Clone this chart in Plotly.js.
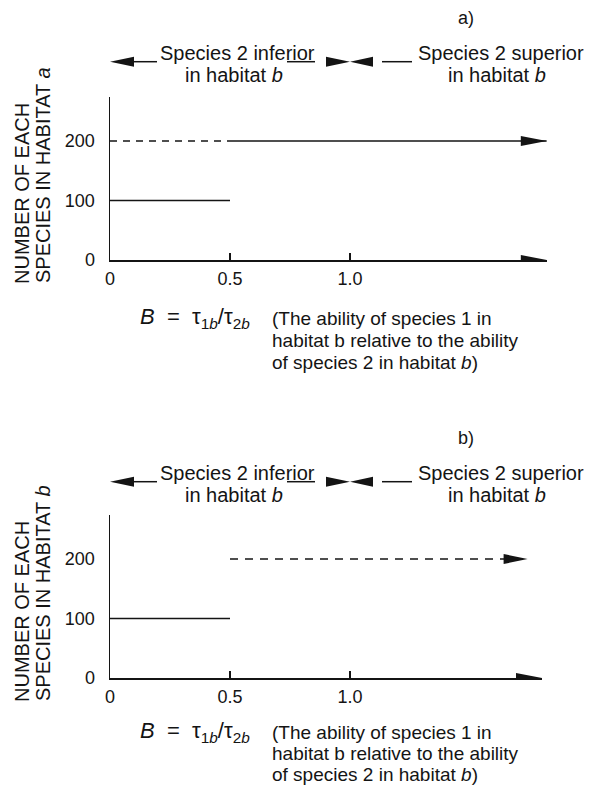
<!DOCTYPE html>
<html><head><meta charset="utf-8">
<script src="https://cdn.plot.ly/plotly-3.0.1.min.js"></script>
<style>html,body{margin:0;padding:0;background:#fff}</style>
</head><body><div id="chart" style="width:596px;height:788px"></div>
<script>
// ---- data ----
const xTickVals = [0, 0.5, 1.0];
const xTickText = ['0', '0.5', '1.0'];
const yTickVals = [0, 100, 200];
const yTickText = ['0', '100', '200'];
// panel a (habitat a)
const aLowX = [0, 0.5],  aLowY = [100, 100];     // solid, species 1
const aDashX = [0, 0.5], aDashY = [200, 200];    // dashed, species 2
const aHighX = [0.5, 1.82], aHighY = [200, 200]; // solid with arrow
const aAxisEnd = 1.82;
// panel b (habitat b)
const bLowX = [0, 0.5],  bLowY = [100, 100];     // solid
const bDashX = [0.5, 1.74], bDashY = [200, 200]; // dashed with arrow
const bAxisEnd = 1.80;
const yTop = 274;
const panelLabels = ['a)', 'b)'];
const habitatLetters = ['a', 'b'];
const leftHeader = ['Species 2 inferior', 'in habitat <i>b</i>'];
const rightHeader = ['Species 2 superior', 'in habitat <i>b</i>'];
const yTitleLines = ['NUMBER OF EACH', 'SPECIES IN HABITAT '];
const formula = '<i>B</i>  =  τ<sub>1<i>b</i></sub>/τ<sub>2<i>b</i></sub>';
const explanation = ['(The ability of species 1 in', 'habitat b relative to the ability', 'of species 2 in habitat <i>b</i>)'];

// ---- layout helpers ----
const W = 596, H = 788, INK = '#141414', FONT = 'Liberation Sans, Arial, sans-serif';
const px = x => x / W, py = y => 1 - y / H;
function ann(text, xp, yp, o) {
  return Object.assign({text: text, xref: 'paper', yref: 'paper', x: px(xp), y: py(yp),
    showarrow: false, xanchor: 'center', yanchor: 'middle',
    font: {family: FONT, size: 20, color: INK}}, o || {});
}
function tri(xref, yref, xa, ya, dir, len, half) {
  const p = dir > 0 ? `M${-len},${-half}L0,0L${-len},${half}Z` : `M${len},${-half}L0,0L${len},${half}Z`;
  return {type: 'path', xref: xref, yref: yref, xsizemode: 'pixel', ysizemode: 'pixel',
    xanchor: xa, yanchor: ya, path: p, fillcolor: INK, line: {width: 0}};
}
function seg(xref, yref, xa, ya, x0, x1) {
  return {type: 'line', xref: xref, yref: yref, xsizemode: 'pixel', ysizemode: 'pixel',
    xanchor: xa, yanchor: ya, x0: x0, x1: x1, y0: 0, y1: 0, line: {color: INK, width: 1.5}};
}
const lineStyle = {color: INK, width: 1.5};
const traces = [
  {x: aLowX, y: aLowY, xaxis: 'x', yaxis: 'y', mode: 'lines', line: lineStyle, cliponaxis: false},
  {x: aDashX, y: aDashY, xaxis: 'x', yaxis: 'y', mode: 'lines', line: Object.assign({dash: '7px,6px'}, lineStyle), cliponaxis: false},
  {x: aHighX, y: aHighY, xaxis: 'x', yaxis: 'y', mode: 'lines', line: lineStyle, cliponaxis: false},
  {x: bLowX, y: bLowY, xaxis: 'x2', yaxis: 'y2', mode: 'lines', line: lineStyle, cliponaxis: false},
  {x: bDashX, y: bDashY, xaxis: 'x2', yaxis: 'y2', mode: 'lines', line: Object.assign({dash: '8px,7px'}, lineStyle), cliponaxis: false}
];

function xax(domain, range, anchor) {
  return {domain: domain, range: range, anchor: anchor, showline: true, linecolor: INK, linewidth: 1.5,
    showgrid: false, zeroline: false, ticks: 'inside', ticklen: 7, tickwidth: 1.5, tickcolor: INK,
    tickvals: xTickVals, ticktext: xTickText, tickfont: {family: FONT, size: 18, color: INK},
    ticklabelstandoff: 2, fixedrange: true};
}
function yax(domain, anchor) {
  return {domain: domain, range: [0, yTop], anchor: anchor, showline: true, linecolor: INK, linewidth: 1.5,
    showgrid: false, zeroline: false, ticks: '', tickvals: yTickVals, ticktext: yTickText,
    tickfont: {family: FONT, size: 18, color: INK}, ticklabelstandoff: 10, fixedrange: true};
}
const X0 = 110, U = 240; // x=0 pixel and pixels per unit
const layout = {
  width: W, height: H, margin: {l: 0, r: 0, t: 0, b: 0}, showlegend: false,
  paper_bgcolor: '#fff', plot_bgcolor: 'rgba(0,0,0,0)',
  xaxis: xax([px(X0), px(X0 + U * aAxisEnd)], [0, aAxisEnd], 'y'),
  yaxis: yax([py(260), py(97)], 'x'),
  xaxis2: xax([px(X0), px(X0 + U * bAxisEnd)], [0, bAxisEnd], 'y2'),
  yaxis2: yax([py(678), py(515)], 'x2'),
  shapes: [], annotations: []
};
// arrowheads on axes and data lines
layout.shapes.push(tri('x', 'y', aAxisEnd, 0, 1, 26, 5));
layout.shapes.push(tri('x2', 'y2', bAxisEnd, 0, 1, 26, 5));
layout.shapes.push(tri('x', 'y', aHighX[aHighX.length - 1], aHighY[aHighY.length - 1], 1, 26, 5));
layout.shapes.push(tri('x2', 'y2', bDashX[bDashX.length - 1], bDashY[bDashY.length - 1], 1, 24, 5));

[['x', 0, 0, 22], ['x2', 420, 414, 21]].forEach(([xr, dh, dp, lsp], i) => {
  const ay = py(61.7 + dh);
  // header arrows
  layout.shapes.push(tri(xr, 'paper', 0, ay, -1, 24, 5));
  layout.shapes.push(seg(xr, 'paper', 0, ay, 22, 47));
  layout.shapes.push(seg(xr, 'paper', 1.0, ay, -63, -35));
  layout.shapes.push(tri(xr, 'paper', 1.0, ay, 1, 24, 5));
  layout.shapes.push(tri(xr, 'paper', 1.0, ay, -1, 23, 5));
  layout.shapes.push(seg(xr, 'paper', 1.0, ay, 32, 62));
  // header text
  layout.annotations.push(ann(panelLabels[i], 466, 18 + dh, {font: {family: FONT, size: 18, color: INK}}));
  layout.annotations.push(ann(leftHeader[0], 237, 53 + dh));
  layout.annotations.push(ann(leftHeader[1], 234, 75 + dh));
  layout.annotations.push(ann(rightHeader[0], 501, 53 + dh));
  layout.annotations.push(ann(rightHeader[1], 497, 75 + dh));
  // y title
  layout.annotations.push(ann(yTitleLines[0], 22, 194 + 418 * i, {textangle: -90}));
  layout.annotations.push(ann(yTitleLines[1] + '<i>' + habitatLetters[i] + '</i>', 43, 175 + 418 * i, {textangle: -90}));
  // x description
  layout.annotations.push(ann(formula, 195, 318 + dp, {font: {family: FONT, size: 22, color: INK}}));
  explanation.forEach((t, k) => layout.annotations.push(ann(t, 270, 318 + lsp * k + dp, {xanchor: 'left', font: {family: FONT, size: 19, color: INK}})));
});

Plotly.newPlot('chart', traces, layout, {displayModeBar: false, staticPlot: true});
</script></body></html>
